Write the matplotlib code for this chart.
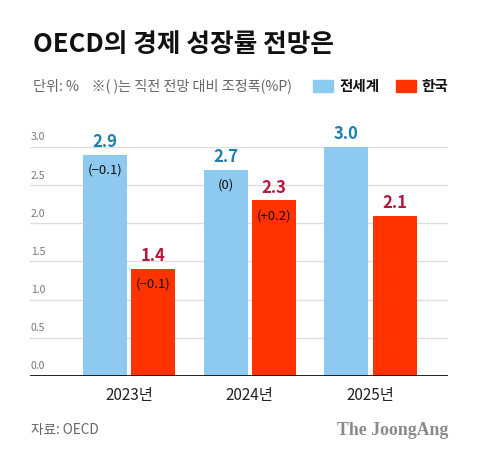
import matplotlib
matplotlib.use("Agg")
import matplotlib.pyplot as plt
from matplotlib.patches import Rectangle

plt.rcParams['font.family'] = ['Noto Sans CJK KR', 'DejaVu Sans']

years = ["2023년", "2024년", "2025년"]
world = [2.9, 2.7, 3.0]
korea = [1.4, 2.3, 2.1]
world_adj = ["(−0.1)", "(0)", ""]
korea_adj = ["(−0.1)", "(+0.2)", ""]
yticks = [0.0, 0.5, 1.0, 1.5, 2.0, 2.5, 3.0]

BLUE = "#8ECAF0"
RED = "#FF3300"
BLUE_TXT = "#1B7FAF"
RED_TXT = "#B8163C"

W, H = 480, 461
fig = plt.figure(figsize=(W / 100, H / 100), dpi=100)
fig.patch.set_facecolor("white")

ax_l, ax_r, ax_b, ax_t = 30, 448, 376, 147
ax = fig.add_axes([ax_l / W, 1 - ax_b / H, (ax_r - ax_l) / W, (ax_b - ax_t) / H])
ax.set_ylim(0, 3.0)
ax.set_xlim(-0.818, 2.64)

bw = 0.364
off = 0.2
x = list(range(len(years)))
ax.bar([i - off for i in x], world, width=bw, color=BLUE, zorder=2)
ax.bar([i + off for i in x], korea, width=bw, color=RED, zorder=2)

for yv in yticks:
    ax.axhline(yv, color="#dddddd", lw=1, zorder=1)
    ax.text(-0.81, yv + 0.06, f"{yv:.1f}", fontsize=7.5, color="#777777",
            ha="left", va="bottom")
ax.axhline(0, color="black", lw=1.2, zorder=3)

for i in x:
    ax.text(i - off, world[i] + 0.05, f"{world[i]:.1f}", ha="center", va="bottom",
            fontsize=12, fontweight="bold", color=BLUE_TXT)
    ax.text(i + off, korea[i] + 0.05, f"{korea[i]:.1f}", ha="center", va="bottom",
            fontsize=12, fontweight="bold", color=RED_TXT)
    if world_adj[i]:
        ax.text(i - off, world[i] - 0.2, world_adj[i], ha="center", va="center",
                fontsize=9.5, color="#111111", zorder=4)
    if korea_adj[i]:
        ax.text(i + off, korea[i] - 0.2, korea_adj[i], ha="center", va="center",
                fontsize=9.5, color="#111111", zorder=4)

ax.set_xticks(x)
ax.set_xticklabels(years, fontsize=11, color="#222222")
ax.tick_params(axis="x", length=0, pad=8)
ax.set_yticks([])
for s in ax.spines.values():
    s.set_visible(False)

# Title and subtitle
fig.text(33 / W, 1 - 45 / H, "OECD의 경제 성장률 전망은", fontsize=18.5, fontweight="bold",
         ha="left", va="center", color="#111111")
fig.text(33 / W, 1 - 86 / H, "단위: %    ※( )는 직전 전망 대비 조정폭(%P)", fontsize=10.2,
         ha="left", va="center", color="#666666")

# Legend
fig.patches.append(Rectangle((313 / W, 1 - 92 / H), 20 / W, 12 / H,
                             transform=fig.transFigure, color=BLUE))
fig.text(340 / W, 1 - 86 / H, "전세계", fontsize=10.5, fontweight="bold",
         ha="left", va="center", color="#111111")
fig.patches.append(Rectangle((396 / W, 1 - 92 / H), 20 / W, 12 / H,
                             transform=fig.transFigure, color=RED))
fig.text(421 / W, 1 - 86 / H, "한국", fontsize=10.5, fontweight="bold",
         ha="left", va="center", color="#111111")

# Footer
fig.text(31 / W, 1 - 430 / H, "자료: OECD", fontsize=9.8, ha="left", va="center",
         color="#666666")
fig.text(448 / W, 1 - 430 / H, "The JoongAng", fontsize=12.8, fontweight="bold",
         family="Liberation Serif", ha="right", va="center", color="#8a8a8a")

fig.savefig("out.png", dpi=100, facecolor="white")
